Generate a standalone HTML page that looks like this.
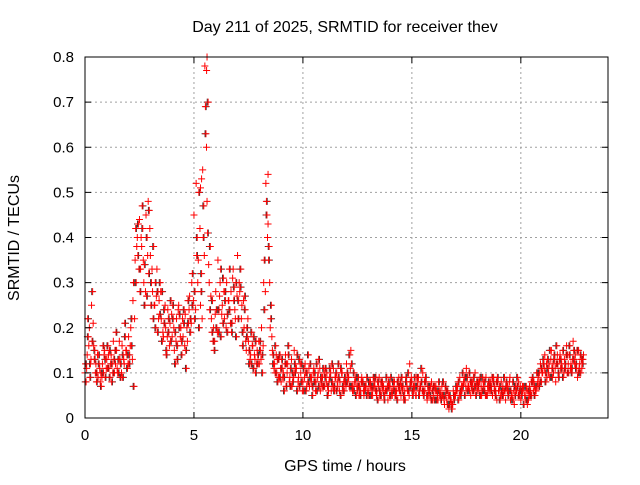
<!DOCTYPE html>
<html><head><meta charset="utf-8"><style>
body{margin:0;background:#fff;}
svg text{font-family:"Liberation Sans",sans-serif;font-size:15px;fill:#000;}
svg text.big{font-size:16px;}
</style></head><body>
<svg id="chart" width="640" height="480" xmlns="http://www.w3.org/2000/svg">
<rect width="640" height="480" fill="#fff"/>
<g id="grid"></g>
<g id="marks"></g>
<rect x="85" y="57" width="523" height="361" fill="none" stroke="#000" stroke-width="1"/>
<g id="axes"></g>
<text class="big" x="345" y="32" text-anchor="middle">Day 211 of 2025, SRMTID for receiver thev</text>
<text class="big" x="345" y="471" text-anchor="middle">GPS time / hours</text>
<text class="big" x="0" y="0" transform="translate(19,238) rotate(-90)" text-anchor="middle">SRMTID / TECUs</text>
</svg>
<script>
const xTicks=[0,5,10,15,20];
const yTicks=[0,0.1,0.2,0.3,0.4,0.5,0.6,0.7,0.8];
const yTickLabels=["0","0.1","0.2","0.3","0.4","0.5","0.6","0.7","0.8"];
const startHour=0, stepHour=0.1;
const seriesA=[0.10,0.14,0.20,0.25,0.16,0.12,0.09,0.08,0.12,0.15,
0.13,0.11,0.14,0.17,0.12,0.10,0.13,0.16,0.12,0.15,
0.18,0.20,0.26,0.35,0.40,0.44,0.38,0.30,0.45,0.48,
0.36,0.28,0.25,0.33,0.26,0.22,0.18,0.20,0.24,0.21,
0.18,0.15,0.22,0.25,0.20,0.18,0.23,0.17,0.27,0.30,
0.45,0.52,0.35,0.25,0.55,0.78,0.48,0.30,0.22,0.20,
0.28,0.35,0.30,0.25,0.22,0.30,0.26,0.28,0.33,0.22,
0.36,0.28,0.25,0.20,0.15,0.17,0.14,0.16,0.13,0.15,
0.12,0.20,0.30,0.52,0.43,0.20,0.15,0.12,0.10,0.13,
0.08,0.10,0.14,0.12,0.09,0.07,0.15,0.11,0.09,0.10,
0.08,0.12,0.10,0.07,0.09,0.11,0.08,0.10,0.06,0.09,
0.07,0.10,0.08,0.06,0.11,0.09,0.07,0.08,0.10,0.06,
0.12,0.09,0.15,0.07,0.08,0.06,0.07,0.09,0.05,0.07,
0.06,0.08,0.05,0.07,0.06,0.09,0.05,0.07,0.06,0.04,
0.07,0.05,0.08,0.06,0.09,0.05,0.07,0.04,0.06,0.12,
0.08,0.06,0.05,0.09,0.07,0.10,0.06,0.04,0.06,0.08,
0.05,0.07,0.04,0.06,0.05,0.03,0.04,0.02,0.04,0.06,
0.05,0.07,0.09,0.06,0.08,0.11,0.07,0.05,0.08,0.10,
0.06,0.08,0.05,0.07,0.09,0.06,0.08,0.05,0.07,0.04,
0.06,0.08,0.05,0.04,0.07,0.09,0.05,0.03,0.06,0.08,
0.04,0.06,0.05,0.03,0.07,0.05,0.08,0.06,0.09,0.12,
0.10,0.14,0.09,0.12,0.15,0.10,0.08,0.12,0.14,0.11,
0.13,0.16,0.10,0.12,0.17,0.14,0.09,0.12,0.11];
const seriesB=[0.08,0.18,0.12,0.28,0.15,0.10,0.12,0.07,0.10,0.13,
0.16,0.09,0.12,0.10,0.15,0.13,0.09,0.14,0.18,0.11,
0.14,0.22,0.07,0.30,0.43,0.33,0.42,0.25,0.40,0.46,
0.30,0.38,0.20,0.28,0.30,0.17,0.24,0.15,0.19,0.26,
0.22,0.12,0.16,0.20,0.14,0.24,0.11,0.21,0.19,0.25,
0.28,0.40,0.20,0.32,0.47,0.63,0.70,0.38,0.26,0.17,
0.20,0.24,0.18,0.31,0.26,0.19,0.24,0.21,0.29,0.18,
0.26,0.33,0.19,0.24,0.18,0.12,0.19,0.11,0.17,0.12,
0.15,0.10,0.24,0.45,0.38,0.25,0.12,0.16,0.08,0.14,
0.11,0.06,0.12,0.16,0.07,0.10,0.12,0.06,0.13,0.08,
0.11,0.06,0.14,0.09,0.05,0.08,0.12,0.07,0.09,0.11,
0.09,0.05,0.11,0.08,0.06,0.10,0.12,0.05,0.07,0.09,
0.08,0.14,0.07,0.10,0.05,0.09,0.06,0.08,0.07,0.05,
0.08,0.05,0.07,0.09,0.04,0.06,0.08,0.05,0.09,0.07,
0.05,0.08,0.06,0.04,0.07,0.09,0.05,0.08,0.10,0.07,
0.06,0.09,0.07,0.05,0.11,0.06,0.08,0.05,0.07,0.04,
0.07,0.04,0.06,0.05,0.08,0.05,0.06,0.03,0.02,0.05,
0.07,0.04,0.06,0.10,0.05,0.09,0.06,0.08,0.06,0.07,
0.08,0.05,0.09,0.06,0.05,0.08,0.07,0.09,0.06,0.08,
0.04,0.06,0.09,0.07,0.05,0.06,0.04,0.07,0.09,0.05,
0.06,0.03,0.07,0.04,0.06,0.08,0.05,0.07,0.10,0.08,
0.13,0.08,0.11,0.15,0.09,0.13,0.16,0.10,0.13,0.09,
0.11,0.14,0.16,0.10,0.13,0.11,0.15,0.10,0.13];
const seriesC=[0.12,0.22,0.09,0.17,0.13,0.08,0.14,0.10,0.16,0.09,
0.11,0.15,0.08,0.13,0.19,0.10,0.12,0.09,0.21,0.14,
0.12,0.16,0.30,0.42,0.36,0.28,0.47,0.34,0.27,0.32,
0.25,0.22,0.30,0.19,0.23,0.28,0.21,0.14,0.22,0.17,
0.25,0.19,0.13,0.23,0.17,0.21,0.15,0.26,0.22,0.32,
0.22,0.36,0.50,0.28,0.40,0.69,0.41,0.24,0.19,0.15,
0.24,0.19,0.33,0.21,0.28,0.23,0.33,0.19,0.26,0.30,
0.22,0.29,0.16,0.27,0.20,0.15,0.12,0.18,0.10,0.14,
0.17,0.14,0.35,0.48,0.35,0.22,0.14,0.10,0.13,0.09,
0.13,0.09,0.07,0.14,0.11,0.08,0.10,0.14,0.07,0.12,
0.06,0.10,0.08,0.12,0.07,0.10,0.06,0.13,0.08,0.07,
0.11,0.07,0.09,0.12,0.07,0.06,0.09,0.11,0.06,0.08,
0.10,0.07,0.12,0.06,0.09,0.07,0.05,0.08,0.06,0.09,
0.05,0.07,0.09,0.06,0.08,0.05,0.07,0.04,0.06,0.08,
0.09,0.06,0.05,0.08,0.06,0.07,0.04,0.09,0.06,0.08,
0.05,0.07,0.09,0.06,0.08,0.05,0.09,0.07,0.05,0.06,
0.04,0.06,0.08,0.04,0.05,0.07,0.03,0.05,0.03,0.04,
0.06,0.08,0.05,0.07,0.09,0.06,0.10,0.07,0.09,0.05,
0.07,0.09,0.06,0.08,0.05,0.07,0.06,0.08,0.05,0.09,
0.07,0.05,0.06,0.08,0.06,0.04,0.08,0.05,0.07,0.06,
0.05,0.07,0.04,0.06,0.05,0.09,0.07,0.10,0.07,0.11,
0.12,0.10,0.13,0.09,0.11,0.14,0.12,0.09,0.11,0.15,
0.12,0.10,0.14,0.11,0.15,0.12,0.10,0.14,0.12];
const seriesD=[0.11,0.16,0.13,0.21,0.10,0.14,0.11,0.09,0.14,0.11,
0.14,0.12,0.10,0.15,0.11,0.17,0.10,0.13,0.15,0.12,
0.16,0.13,0.22,0.38,0.33,0.40,0.35,0.28,0.36,0.42,
0.33,0.25,0.27,0.22,0.28,0.19,0.25,0.18,0.16,0.23,
0.20,0.17,0.24,0.18,0.22,0.16,0.20,0.24,0.21,0.26,
0.24,0.30,0.42,0.22,0.36,0.60,0.34,0.27,0.17,0.23,
0.19,0.27,0.23,0.28,0.20,0.26,0.21,0.31,0.24,0.27,
0.30,0.22,0.26,0.17,0.22,0.13,0.16,0.14,0.12,0.17,
0.13,0.16,0.28,0.40,0.30,0.18,0.11,0.14,0.09,0.11,
0.09,0.12,0.10,0.08,0.13,0.09,0.11,0.08,0.12,0.06,
0.09,0.07,0.11,0.08,0.10,0.06,0.09,0.11,0.07,0.10,
0.08,0.06,0.10,0.07,0.09,0.08,0.06,0.10,0.08,0.07,
0.09,0.11,0.06,0.08,0.07,0.05,0.08,0.06,0.07,0.06,
0.07,0.06,0.08,0.05,0.07,0.08,0.06,0.06,0.07,0.05,
0.06,0.07,0.05,0.07,0.08,0.06,0.06,0.07,0.05,0.09,
0.07,0.05,0.08,0.07,0.06,0.08,0.05,0.06,0.04,0.07,
0.06,0.05,0.05,0.07,0.04,0.06,0.05,0.04,0.03,0.05,
0.06,0.05,0.07,0.08,0.07,0.07,0.08,0.06,0.07,0.08,
0.06,0.07,0.08,0.05,0.07,0.06,0.09,0.06,0.08,0.06,
0.05,0.07,0.06,0.06,0.08,0.05,0.06,0.06,0.05,0.07,
0.07,0.05,0.06,0.05,0.08,0.06,0.06,0.08,0.08,0.10,
0.11,0.12,0.10,0.13,0.12,0.11,0.14,0.13,0.12,0.10,
0.14,0.12,0.11,0.13,0.12,0.15,0.11,0.13,0.14];
const peakHours=[5.6,5.58,5.35,5.3,8.4];
const peakValues=[0.80,0.77,0.53,0.51,0.54];
const X0=85,X1=608,Y0=418,Y1=57;
function xs(h){return X0+(h-0)/24*(X1-X0);}
function ys(v){return Y0-(v-0)/0.8*(Y0-Y1);}
const NS="http://www.w3.org/2000/svg";
const grid=document.getElementById('grid'),axes=document.getElementById('axes'),marks=document.getElementById('marks');
function mk(tag,attrs,parent){const e=document.createElementNS(NS,tag);for(const k in attrs)e.setAttribute(k,attrs[k]);parent.appendChild(e);return e;}
xTicks.forEach(t=>{const x=xs(t);
 if(t>0){const g=mk('line',{x1:x,x2:x,y1:Y1,y2:Y0,stroke:'#a0a0a0','stroke-dasharray':'2,3'},grid);
 
 }
 mk('line',{x1:x,x2:x,y1:Y0,y2:Y0-6,stroke:'#000'},axes);
 mk('line',{x1:x,x2:x,y1:Y1,y2:Y1+6,stroke:'#000'},axes);
 const tx=mk('text',{x:x,y:Y0+22,'text-anchor':'middle'},axes);tx.textContent=String(t);
 
 
});
yTicks.forEach((t,i)=>{const y=ys(t);
 if(i>0&&i<yTicks.length-1){const g=mk('line',{x1:X0,x2:X1,y1:y,y2:y,stroke:'#a0a0a0','stroke-dasharray':'2,3'},grid);
 
 }
 mk('line',{x1:X0,x2:X0+6,y1:y,y2:y,stroke:'#000'},axes);
 mk('line',{x1:X1,x2:X1-6,y1:y,y2:y,stroke:'#000'},axes);
 const tx=mk('text',{x:X0-11,y:y+5,'text-anchor':'end'},axes);tx.textContent=yTickLabels[i];
 
 
});
function plus(h,v,color){const x=xs(h),y=ys(v);
 const p=mk('path',{d:`M${x-3.5},${y}h7M${x},${y-3.5}v7`,stroke:color,'stroke-width':1,fill:'none'},marks);
 
 }
seriesB.forEach((v,i)=>plus(startHour+i*stepHour+0.01,v,'#333'));
seriesC.forEach((v,i)=>plus(startHour+i*stepHour+0.06,v,'#333'));
seriesA.forEach((v,i)=>plus(startHour+i*stepHour,v,'#ff0000'));
seriesC.forEach((v,i)=>plus(startHour+i*stepHour+0.025,v,'#ff0000'));
seriesB.forEach((v,i)=>plus(startHour+i*stepHour+0.05,v,'#ff0000'));
seriesD.forEach((v,i)=>plus(startHour+i*stepHour+0.075,v,'#ff0000'));
peakValues.forEach((v,i)=>plus(peakHours[i],v,'#ff0000'));
</script>
</body></html>
